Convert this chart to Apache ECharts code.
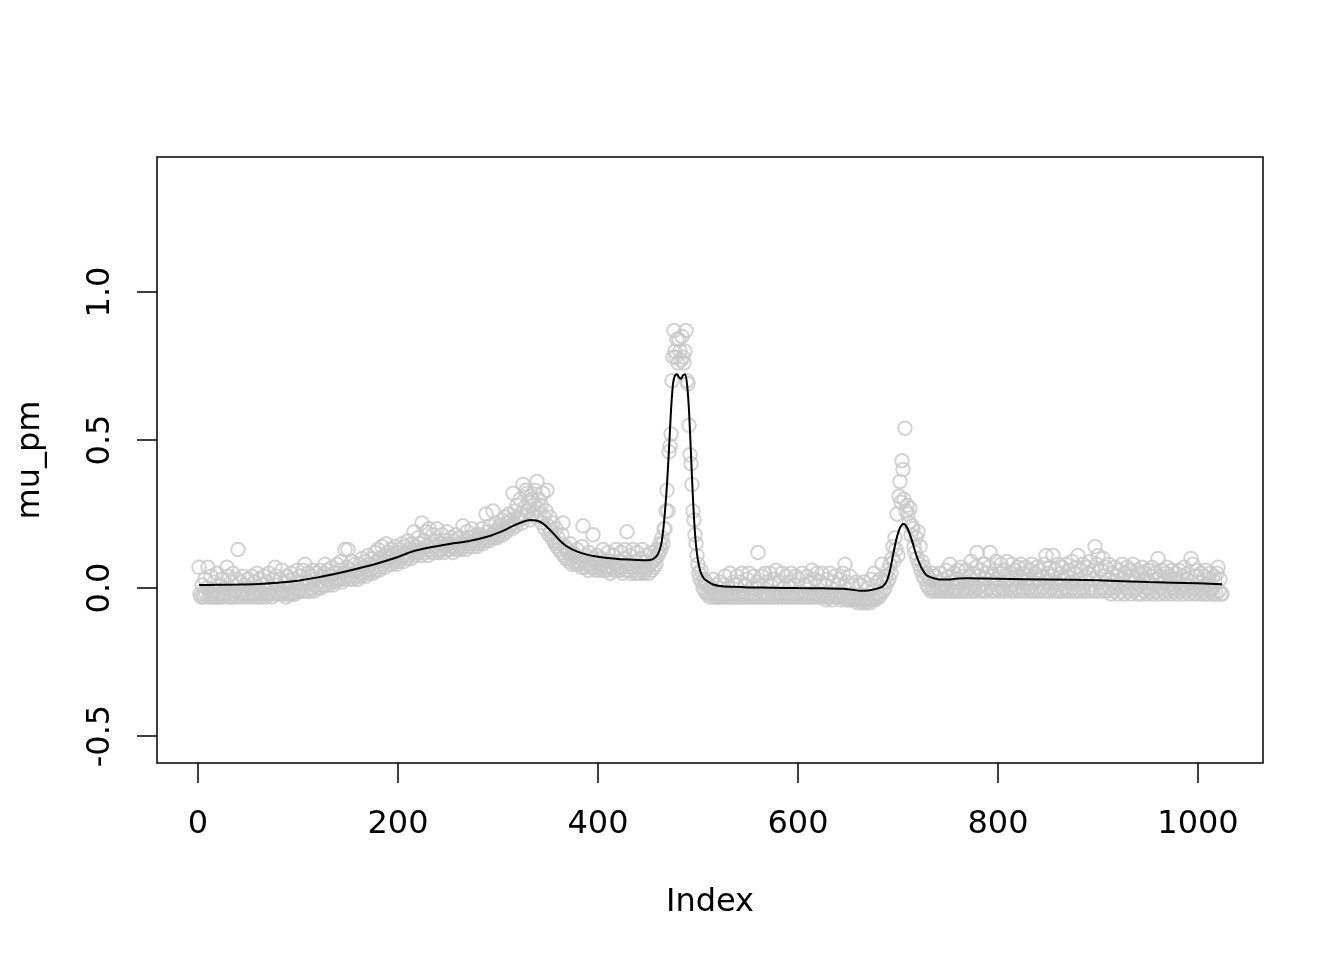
<!DOCTYPE html>
<html>
<head>
<meta charset="utf-8">
<script src="https://cdn.jsdelivr.net/npm/echarts@6/dist/echarts.min.js"></script>
<style>
html,body{margin:0;padding:0;background:#fff;}
#chart{width:1344px;height:960px;}
</style>
</head>
<body>
<div id="chart"></div>
<script>
// ---- data ----
var xTicks = [0, 200, 400, 600, 800, 1000];
var yTicks = [-0.5, 0, 0.5, 1.0];

// observed values mu_pm (index 1..1024)
var muPm = [
// 1-20
0.07,-0.02,-0.03,0.01,-0.02,-0.03,0.03,-0.02,0.00,0.07,-0.03,-0.02,0.04,-0.02,-0.03,0.02,-0.01,-0.03,0.05,-0.02,
// 21-40
-0.03,0.01,-0.02,0.03,-0.03,-0.02,0.00,-0.02,0.07,0.04,-0.03,-0.02,0.02,-0.03,0.05,-0.02,-0.01,-0.03,0.03,0.13,
// 41-60
-0.02,0.02,-0.03,-0.02,0.04,-0.02,0.01,-0.03,-0.02,0.03,-0.02,0.00,-0.03,0.04,-0.02,-0.02,0.02,-0.03,0.05,-0.01,
// 61-80
-0.02,0.03,-0.03,-0.02,0.01,0.04,-0.02,-0.03,0.02,-0.02,0.05,-0.02,0.00,-0.03,0.03,-0.02,0.07,0.04,-0.02,0.01,
// 81-100
-0.02,0.03,-0.02,0.06,-0.01,-0.02,0.02,-0.03,0.04,-0.02,0.00,-0.02,0.05,-0.01,-0.02,0.03,-0.02,0.02,0.06,-0.01,
// 101-120
-0.01,0.04,-0.01,0.02,0.06,-0.01,0.08,0.01,-0.01,0.05,0.02,-0.01,0.04,0.00,0.06,-0.01,0.03,0.01,0.05,0.00,
// 121-140
0.02,0.06,0.00,0.04,0.01,0.05,0.08,0.01,0.03,0.06,0.01,0.04,0.02,0.07,0.01,0.05,0.03,0.02,0.08,0.03,
// 141-160
0.03,0.06,0.09,0.02,0.05,0.03,0.13,0.04,0.07,0.13,0.03,0.06,0.04,0.09,0.03,0.05,0.08,0.04,0.06,0.03,
// 161-180
0.05,0.08,0.04,0.10,0.05,0.07,0.09,0.04,0.06,0.11,0.05,0.08,0.06,0.10,0.05,0.07,0.12,0.06,0.09,0.13,
// 181-200
0.06,0.10,0.07,0.14,0.08,0.11,0.07,0.15,0.09,0.12,0.08,0.10,0.13,0.08,0.11,0.09,0.14,0.10,0.08,0.12,
// 201-220
0.09,0.13,0.10,0.15,0.11,0.09,0.14,0.12,0.10,0.16,0.11,0.13,0.10,0.15,0.12,0.19,0.11,0.14,0.12,0.17,
// 221-240
0.12,0.15,0.11,0.22,0.13,0.16,0.12,0.19,0.14,0.11,0.20,0.13,0.15,0.12,0.18,0.14,0.12,0.16,0.20,0.13,
// 241-260
0.12,0.15,0.13,0.18,0.14,0.12,0.16,0.14,0.19,0.13,0.15,0.13,0.17,0.14,0.12,0.16,0.14,0.18,0.13,0.15,
// 261-280
0.14,0.17,0.13,0.15,0.21,0.14,0.16,0.13,0.19,0.15,0.14,0.17,0.15,0.20,0.14,0.16,0.15,0.18,0.14,0.17,
// 281-300
0.15,0.18,0.16,0.20,0.15,0.17,0.16,0.25,0.17,0.19,0.16,0.21,0.17,0.18,0.26,0.17,0.19,0.22,0.17,0.20,
// 301-320
0.18,0.21,0.19,0.23,0.18,0.20,0.24,0.19,0.22,0.20,0.25,0.21,0.23,0.20,0.32,0.22,0.26,0.21,0.28,0.24,
// 321-340
0.23,0.30,0.25,0.22,0.35,0.27,0.24,0.33,0.32,0.26,0.29,0.23,0.31,0.30,0.25,0.28,0.33,0.24,0.36,0.27,
// 341-360
0.30,0.25,0.28,0.22,0.32,0.24,0.20,0.26,0.33,0.21,0.18,0.24,0.19,0.17,0.22,0.16,0.15,0.20,0.14,0.17,
// 361-380
0.13,0.15,0.12,0.18,0.22,0.11,0.14,0.10,0.13,0.12,0.09,0.15,0.10,0.08,0.12,0.09,0.11,0.08,0.13,0.09,
// 381-400
0.08,0.10,0.07,0.14,0.21,0.09,0.07,0.11,0.08,0.06,0.12,0.08,0.07,0.10,0.18,0.07,0.09,0.06,0.11,0.08,
// 401-420
0.07,0.06,0.10,0.08,0.13,0.06,0.07,0.09,0.06,0.12,0.07,0.05,0.09,0.07,0.11,0.06,0.08,0.13,0.06,0.07,
// 421-440
0.09,0.06,0.12,0.07,0.05,0.10,0.13,0.06,0.19,0.08,0.06,0.11,0.05,0.07,0.13,0.06,0.09,0.05,0.12,0.07,
// 441-460
0.05,0.10,0.06,0.13,0.07,0.05,0.09,0.06,0.11,0.07,0.05,0.08,0.12,0.06,0.09,0.07,0.10,0.08,0.13,0.11,
// 461-480
0.12,0.15,0.13,0.17,0.15,0.20,0.20,0.26,0.33,0.26,0.46,0.48,0.52,0.70,0.78,0.87,0.80,0.78,0.84,0.76,
// 481-500
0.84,0.80,0.77,0.85,0.78,0.76,0.80,0.87,0.70,0.69,0.55,0.45,0.42,0.35,0.26,0.23,0.18,0.15,0.11,0.08,
// 501-520
0.05,0.03,0.06,0.02,0.00,0.03,-0.01,0.02,-0.02,0.01,-0.02,-0.03,0.00,-0.02,0.03,-0.03,-0.02,0.01,-0.03,-0.02,
// 521-540
-0.03,0.02,-0.02,-0.03,0.01,-0.02,0.04,-0.03,-0.02,0.00,-0.03,0.05,-0.02,-0.03,0.02,-0.02,-0.03,0.01,0.04,-0.02,
// 541-560
-0.03,0.02,-0.02,0.05,-0.03,-0.02,0.01,-0.03,0.03,-0.02,0.05,-0.03,-0.02,0.00,-0.03,0.04,-0.02,-0.03,0.02,0.12,
// 561-580
-0.03,0.01,-0.02,0.04,-0.03,-0.02,0.05,-0.03,0.02,-0.02,-0.03,0.05,0.01,-0.02,-0.03,0.03,-0.02,0.06,-0.03,-0.02,
// 581-600
0.02,-0.03,-0.02,0.05,-0.03,0.00,-0.02,0.04,-0.03,-0.02,0.02,-0.03,0.05,-0.02,-0.03,0.01,-0.02,0.04,-0.03,-0.02,
// 601-620
0.03,-0.03,-0.02,0.05,-0.02,-0.03,0.01,-0.02,0.04,-0.03,-0.02,0.02,-0.03,0.06,-0.02,-0.03,0.03,-0.02,0.05,-0.03,
// 621-640
-0.02,0.02,-0.03,0.05,-0.02,-0.03,0.01,-0.04,0.03,-0.02,-0.03,0.05,-0.02,-0.04,0.02,-0.03,0.04,-0.02,-0.03,0.01,
// 641-660
-0.03,0.03,-0.04,-0.02,0.05,-0.03,0.08,-0.04,0.02,-0.03,-0.04,0.04,-0.03,-0.04,0.01,-0.04,-0.03,0.02,-0.04,-0.05,
// 661-680
-0.04,-0.03,0.01,-0.05,-0.04,0.02,-0.04,-0.05,-0.03,0.00,-0.04,-0.05,0.03,-0.04,-0.03,0.05,-0.04,-0.03,0.02,-0.02,
// 681-700
-0.03,0.03,-0.02,0.08,-0.01,0.02,0.00,0.04,0.02,0.06,0.03,0.08,0.05,0.10,0.14,0.09,0.17,0.13,0.25,0.11,
// 701-720
0.31,0.36,0.29,0.43,0.40,0.30,0.54,0.26,0.28,0.25,0.22,0.27,0.18,0.21,0.20,0.14,0.12,0.17,0.10,0.19,
// 721-740
0.08,0.14,0.06,0.09,0.04,0.07,0.03,0.05,0.01,0.04,0.00,0.03,-0.01,0.05,0.00,-0.01,0.04,-0.01,0.02,0.00,
// 741-760
-0.01,0.05,0.00,-0.01,0.03,-0.01,0.01,0.06,-0.01,0.00,0.04,0.08,-0.01,0.02,-0.01,0.05,0.00,-0.01,0.03,0.06,
// 761-780
-0.01,0.02,0.07,-0.01,0.04,0.00,-0.01,0.06,0.02,-0.01,0.04,0.00,0.09,-0.01,0.05,0.01,-0.01,0.07,0.12,0.00,
// 781-800
0.04,-0.01,0.06,0.01,-0.01,0.08,0.03,-0.01,0.05,0.00,0.07,0.12,-0.01,0.04,0.02,-0.01,0.06,0.09,0.00,0.03,
// 801-820
-0.01,0.05,0.08,0.00,-0.01,0.06,0.02,-0.01,0.09,0.03,0.00,0.05,-0.01,0.08,0.01,-0.01,0.06,0.03,0.00,0.07,
// 821-840
-0.01,0.04,0.08,0.00,-0.01,0.05,0.02,0.07,-0.01,0.03,0.00,0.06,-0.01,0.08,0.02,-0.01,0.05,0.00,0.07,-0.01,
// 841-860
0.03,0.06,-0.01,0.04,0.00,0.08,-0.01,0.11,0.02,0.05,-0.01,0.07,0.00,0.04,0.11,-0.01,0.06,0.02,-0.01,0.08,
// 861-880
0.01,-0.01,0.05,0.07,-0.01,0.03,0.00,0.08,-0.01,0.04,0.06,-0.01,0.02,0.09,0.00,-0.01,0.05,0.07,-0.01,0.11,
// 881-900
0.03,-0.01,0.06,0.00,0.08,-0.01,0.04,0.02,0.07,-0.01,0.05,0.09,0.00,-0.01,0.06,0.03,0.14,-0.01,0.08,0.11,
// 901-920
0.02,-0.01,0.06,0.00,0.10,-0.01,0.04,0.07,-0.01,0.03,0.08,0.00,-0.02,0.05,0.02,-0.01,0.07,0.00,0.04,-0.02,
// 921-940
0.06,0.01,-0.01,0.08,0.03,-0.02,0.05,0.00,0.07,-0.01,0.02,0.06,-0.02,0.04,0.08,-0.01,0.03,0.00,0.06,-0.02,
// 941-960
0.05,0.01,-0.02,0.07,0.03,-0.01,0.05,0.00,-0.02,0.06,0.02,-0.01,0.04,0.07,-0.02,0.01,0.05,-0.01,0.03,0.10,
// 961-980
-0.02,0.04,0.00,0.06,-0.01,0.02,-0.02,0.05,0.07,-0.01,0.01,0.04,-0.02,0.06,0.00,-0.01,0.03,0.05,-0.02,0.02,
// 981-1000
0.06,-0.01,0.00,0.04,-0.02,0.07,0.01,-0.01,0.03,0.05,-0.02,0.02,0.10,-0.01,0.08,0.00,-0.02,0.04,0.06,-0.01,
// 1001-1024
0.02,-0.02,0.05,0.00,-0.01,0.04,-0.02,0.06,0.01,-0.02,0.03,0.05,-0.01,0.00,-0.02,0.04,0.02,-0.02,0.05,0.07,-0.01,0.03,-0.02,-0.02
];

// smoothed fit (index positions and values)
var fitIndex = [1,20,40,60,80,100,120,140,160,180,200,215,230,250,270,290,305,315,325,332,338,344,350,356,362,370,380,390,400,415,430,445,452,456,460,463,465,467,469,471,473,475,477,479,481,483,485,487,489,491,493,495,497,499,501,503,506,510,515,522,535,550,575,600,625,645,655,662,668,674,680,685,689,692,695,698,701,704,706,708,711,714,717,720,724,728,733,740,750,760,770,800,850,900,950,1000,1024];
var fitValue = [0.010,0.011,0.012,0.014,0.018,0.025,0.036,0.050,0.066,0.084,0.105,0.124,0.136,0.148,0.158,0.174,0.193,0.210,0.224,0.230,0.228,0.220,0.203,0.182,0.160,0.138,0.122,0.112,0.106,0.100,0.096,0.094,0.095,0.100,0.115,0.145,0.190,0.260,0.350,0.470,0.600,0.690,0.718,0.722,0.712,0.706,0.718,0.722,0.690,0.600,0.450,0.300,0.185,0.115,0.075,0.050,0.032,0.022,0.012,0.007,0.004,0.002,0.001,0.000,-0.001,-0.002,-0.006,-0.009,-0.009,-0.006,-0.001,0.006,0.025,0.060,0.110,0.160,0.195,0.214,0.216,0.210,0.190,0.160,0.125,0.095,0.065,0.045,0.036,0.030,0.029,0.032,0.033,0.031,0.029,0.026,0.020,0.016,0.013];

var xName = 'Index';
var yName = 'mu_pm';

// ---- chart ----
var scatterData = muPm.map(function (v, i) { return [i + 1, v]; });
var lineData = fitIndex.map(function (x, i) { return [x, fitValue[i]]; });

var FONT = 'DejaVu Sans';
var chart = echarts.init(document.getElementById('chart'), null, { renderer: 'canvas' });
chart.setOption({
  animation: false,
  backgroundColor: '#ffffff',
  grid: {
    left: 157, top: 157, width: 1106, height: 606,
    show: true, borderColor: '#000', borderWidth: 1.5, backgroundColor: 'transparent'
  },
  xAxis: {
    type: 'value', min: -41, max: 1065,
    name: xName, nameLocation: 'middle', nameGap: 124,
    nameTextStyle: { fontFamily: FONT, fontSize: 32, color: '#000' },
    axisLine: { show: false, onZero: false },
    axisTick: { show: true, length: 20, inside: false, customValues: xTicks, lineStyle: { color: '#000', width: 1.5 } },
    axisLabel: {
      customValues: xTicks, margin: 46, fontFamily: FONT, fontSize: 32, color: '#000', lineHeight: 32,
      formatter: function (v) { return String(v); }
    },
    splitLine: { show: false }
  },
  yAxis: {
    type: 'value', min: -0.591, max: 1.456,
    name: yName, nameLocation: 'middle', nameGap: 110, nameRotate: 90,
    nameTextStyle: { fontFamily: FONT, fontSize: 32, color: '#000' },
    axisLine: { show: false, onZero: false },
    axisTick: { show: true, length: 20, inside: false, customValues: yTicks, lineStyle: { color: '#000', width: 1.5 } },
    axisLabel: {
      customValues: yTicks, rotate: 90, margin: 40, fontFamily: FONT, fontSize: 32, color: '#000', lineHeight: 32,
      formatter: function (v) { return v.toFixed(1); }
    },
    splitLine: { show: false }
  },
  series: [
    {
      type: 'scatter', data: scatterData, symbol: 'circle', symbolSize: 13.5,
      itemStyle: { color: 'rgba(0,0,0,0)', borderColor: '#c8c8c8', borderWidth: 2 },
      silent: true, z: 2
    },
    {
      type: 'line', data: lineData, smooth: 0.25, showSymbol: false,
      lineStyle: { color: '#000', width: 2 }, silent: true, z: 3
    }
  ]
});
</script>
</body>
</html>
